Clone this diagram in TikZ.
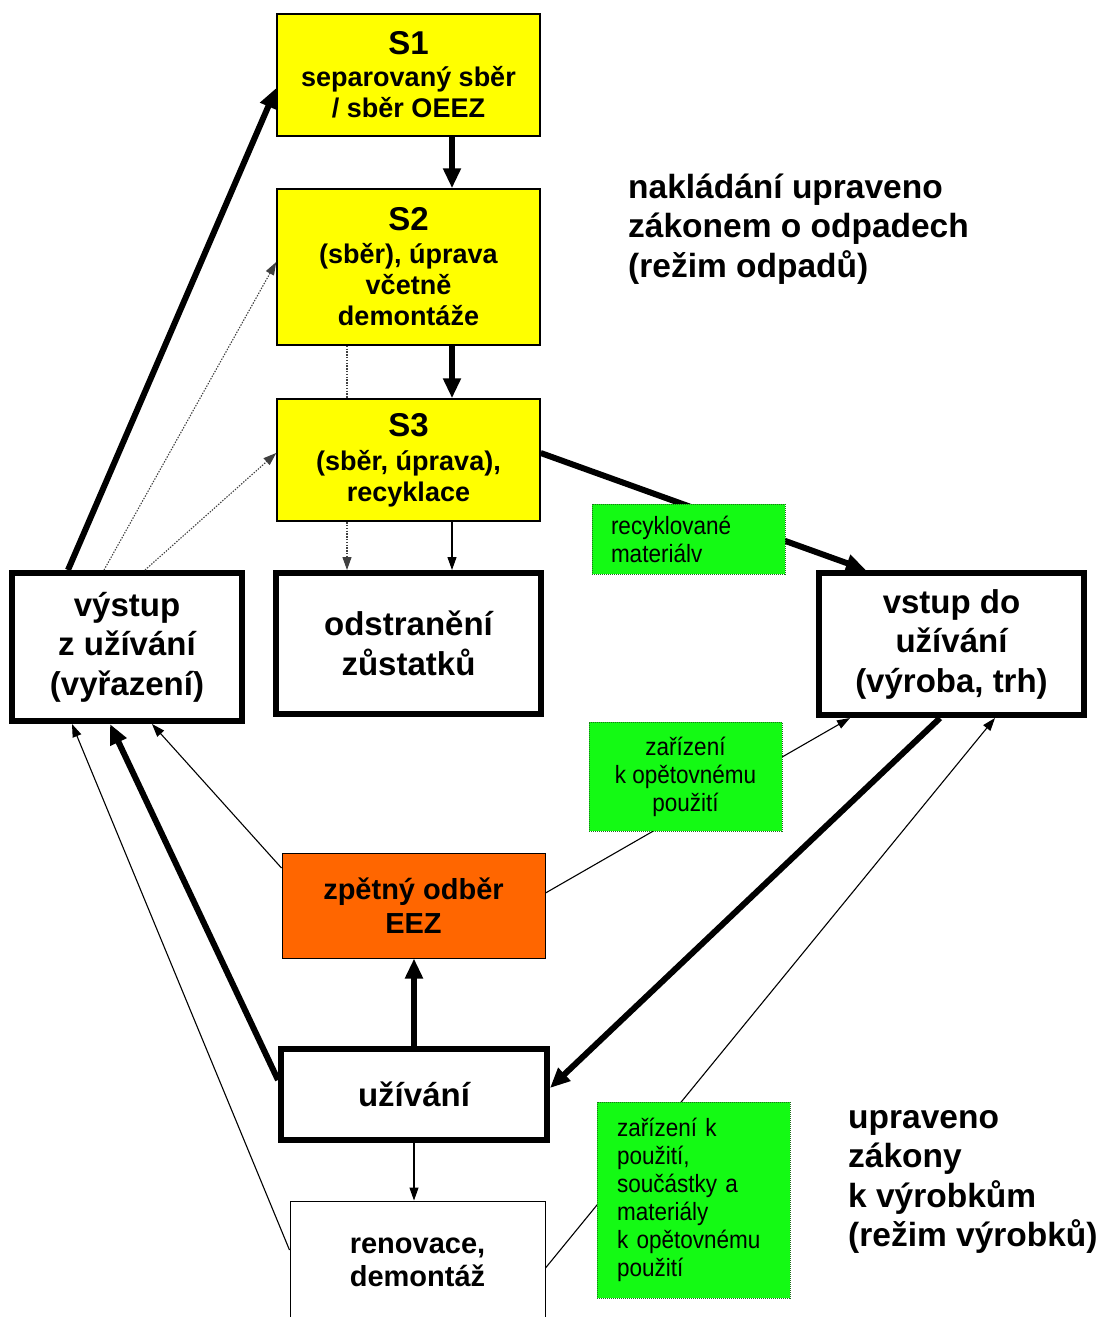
\documentclass[tikz,border=0pt]{standalone}
\usepackage{fontspec}
\setmainfont{Liberation Sans}
\newfontfamily\narrowfont[FakeStretch=0.9]{Liberation Sans}
\usetikzlibrary{arrows.meta,backgrounds,calc}
\definecolor{ylw}{RGB}{255,255,0}
\definecolor{org}{RGB}{255,102,0}
\definecolor{grn}{RGB}{20,250,20}
\definecolor{grnb}{RGB}{30,110,30}
\tikzset{
  ybox/.style={draw=black, line width=1.5pt, fill=ylw, minimum width=263pt, inner sep=0pt, align=center, font=\bfseries\fontsize{27}{31}\selectfont},
  wbox/.style={draw=black, line width=6pt, fill=white, inner sep=0pt, align=center, font=\bfseries\fontsize{33}{39.5}\selectfont},
  gbox/.style={draw=grnb, line width=1pt, dash pattern=on 1pt off 1pt, fill=grn, inner ysep=0pt, font=\narrowfont\fontsize{25}{28}\selectfont},
  thickarr/.style={line width=6pt, -{Triangle[length=20pt,width=17pt]}},
  thinarr/.style={line width=1.1pt, -{Triangle[length=13pt,width=9pt]}},
  dotarr/.style={line width=1.1pt, draw=black!75, dash pattern=on 1.4pt off 1.4pt, -{Triangle[length=13pt,width=9pt]}},
  sidetext/.style={inner sep=0pt, anchor=west, align=left, font=\bfseries\fontsize{33.5}{39.5}\selectfont}
}
\begin{document}
\begin{tikzpicture}[x=1pt,y=-1pt]
\useasboundingbox (0,0) rectangle (1103,1317);

% nodes
\node[ybox, minimum height=122pt] (S1) at (408.5,75)
  {{\fontsize{33}{36}\selectfont S1}\\[1pt]separovaný sběr\\/ sběr OEEZ};
\node[ybox, minimum height=156pt] (S2) at (408.5,267)
  {{\fontsize{33}{36}\selectfont S2}\\[2pt](sběr), úprava\\včetně\\demontáže};
\node[ybox, minimum height=122pt] (S3) at (408.5,460)
  {{\fontsize{33}{36}\selectfont S3}\\[3pt](sběr, úprava),\\recyklace};

\node[wbox, minimum width=230pt, minimum height=148pt] (vys) at (127,647)
  {výstup\\z užívání\\(vyřazení)};
\node[wbox, minimum width=265pt, minimum height=141pt] (ods) at (408.5,643.5)
  {odstranění\\zůstatků};
\node[wbox, minimum width=265pt, minimum height=142pt] (vst) at (951.5,644)
  {vstup do\\užívání\\(výroba, trh)};

\node[gbox, minimum height=70pt, text width=155pt, inner xsep=19pt, align=left] (g1) at (688.5,539)
  {recyklované\\materiálv};
\node[gbox, minimum height=109pt, minimum width=193pt, inner xsep=0pt, align=center] (g2) at (685.5,776.5)
  {zařízení\\k opětovnému\\použití};

\node[draw=black, line width=1pt, fill=org, minimum width=263pt, minimum height=105pt, inner sep=0pt, align=center,
  font=\bfseries\fontsize{29}{34}\selectfont] (zpe) at (413.5,905.5)
  {zpětný odběr\\EEZ};
\node[wbox, minimum width=266pt, minimum height=91pt] (uzi) at (414,1094.5) {užívání};
\node[draw=black, line width=1pt, fill=white, minimum width=255pt, minimum height=122pt, inner sep=0pt, align=center,
  font=\bfseries\fontsize{29}{33}\selectfont] (ren) at (417.5,1262)
  {renovace,\\demontáž};
\node[gbox, minimum height=196pt, text width=153pt, inner xsep=20pt, align=left] (g3) at (693.5,1200)
  {zařízení k\\použití,\\součástky a\\materiály\\k opětovnému\\použití};

\node[sidetext] (t1) at (628,229)
  {nakládání upraveno\\zákonem o odpadech\\(režim odpadů)};
\node[sidetext] (t2) at (848,1182)
  {upraveno\\zákony\\k výrobkům\\(režim výrobků)};

% connectors behind boxes
\begin{pgfonlayer}{background}
  \fill[white] (0,0) rectangle (1103,1317);
  \draw[dotarr] (S2.south -| 347,0) -- (ods.north -| 347,0);
  \draw[thickarr] (S3.east |- 0,453) -- (vst.north -| 866,0);
  \draw[thinarr] (zpe.east |- 0,893) -- (vst.south -| 850,0);
  \draw[thinarr] (ren.east |- 0,1268) -- (vst.south -| 995,0);
\end{pgfonlayer}

% other connectors
\draw[thickarr] (S1.south -| 452,0) -- (S2.north -| 452,0);
\draw[thickarr] (S2.south -| 452,0) -- (S3.north -| 452,0);
\draw[thinarr] (S3.south -| 452,0) -- (ods.north -| 452,0);
\draw[thickarr] (vys.north -| 68,0) -- (S1.west |- 0,88);
\draw[dotarr] (vys.north -| 104,0) -- (S2.west |- 0,262);
\draw[dotarr] (vys.north -| 145,0) -- (S3.west |- 0,453);
\draw[thickarr] (vst.south -| 940,0) -- (uzi.east |- 0,1088);
\draw[thickarr] (uzi.north -| 414,0) -- (zpe.south -| 414,0);
\draw[thickarr] (uzi.west |- 0,1080) -- (vys.south -| 110,0);
\draw[thinarr] (zpe.west |- 0,868) -- (vys.south -| 152,0);
\draw[thinarr] (ren.west |- 0,1250) -- (vys.south -| 72,0);
\draw[thinarr] (uzi.south -| 414,0) -- (ren.north -| 414,0);
\end{tikzpicture}
\end{document}
